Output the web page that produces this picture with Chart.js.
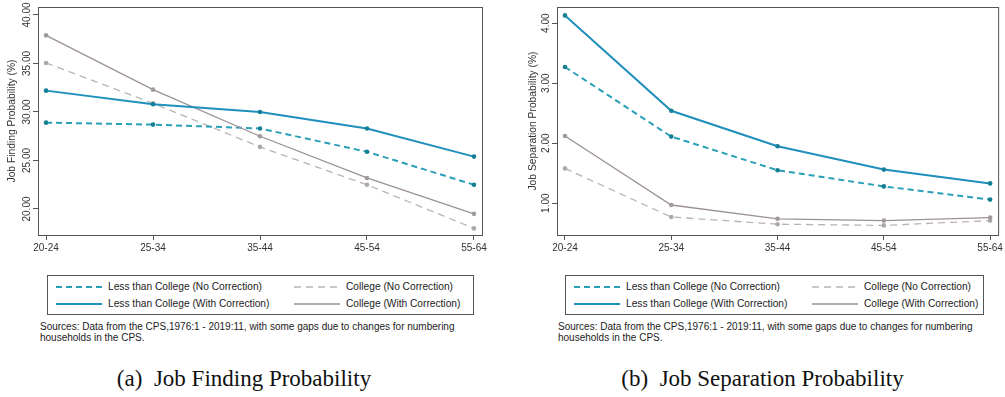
<!DOCTYPE html>
<html>
<head>
<meta charset="utf-8">
<script src="https://cdn.jsdelivr.net/npm/chart.js@4.4.1/dist/chart.umd.min.js"></script>
<style>
  html, body { margin: 0; padding: 0; background: #fff; width: 1005px; height: 397px; overflow: hidden; }
  body { position: relative; font-family: "Liberation Sans", Arial, sans-serif; color: #222; }
  .cv { position: absolute; top: 0; }
  .legend { position: absolute; top: 275px; height: 40px; border: 1px solid #555; box-sizing: border-box;
            display: grid; grid-template-columns: 238px 1fr; grid-template-rows: 1fr 1fr; font-size: 10.2px;
            padding: 2px 0; white-space: nowrap; }
  .legend .item { display: flex; align-items: center; }
  .legend svg { margin: 0 6px 0 8px; flex: none; }
  .note { position: absolute; top: 321px; font-size: 10px; line-height: 11px; color: #222; white-space: nowrap; }
  .caption { position: absolute; top: 366px; font-family: "Liberation Serif", "DejaVu Serif", serif; font-size: 23px;
             color: #111; text-align: center; white-space: pre; }
</style>
</head>
<body>
<div class="cv" style="left:0px;width:500px;height:260px"><canvas id="findChart"></canvas></div>
<div class="cv" style="left:519px;width:486px;height:260px"><canvas id="sepChart"></canvas></div>
<div class="legend" id="findLegend" style="left:47px;width:427px"></div>
<div class="legend" id="sepLegend" style="left:565px;width:419px"></div>
<div class="note" style="left:40px">Sources: Data from the CPS,1976:1 - 2019:11, with some gaps due to changes for numbering<br>households in the CPS.</div>
<div class="note" style="left:558px">Sources: Data from the CPS,1976:1 - 2019:11, with some gaps due to changes for numbering<br>households in the CPS.</div>
<div class="caption" style="left:0px;width:488px">(a)  Job Finding Probability</div>
<div class="caption" style="left:510px;width:505px">(b)  Job Separation Probability</div>
<script>
const categories = ["20-24", "25-34", "35-44", "45-54", "55-64"];
const seriesNames = [
  "Less than College (No Correction)",
  "College (No Correction)",
  "Less than College (With Correction)",
  "College (With Correction)"
];

// Job finding probability (%)
const findLessNoCorr = [28.9, 28.7, 28.3, 25.9, 22.5];
const findCollNoCorr = [35.05, 30.9, 26.4, 22.5, 18.0];
const findLessCorr = [32.2, 30.8, 30.0, 28.3, 25.4];
const findCollCorr = [37.9, 32.3, 27.5, 23.2, 19.5];
const findTicks = [20, 25, 30, 35, 40];

// Job separation probability (%)
const sepLessNoCorr = [3.27, 2.11, 1.55, 1.28, 1.06];
const sepCollNoCorr = [1.58, 0.77, 0.65, 0.63, 0.71];
const sepLessCorr = [4.13, 2.54, 1.95, 1.56, 1.33];
const sepCollCorr = [2.12, 0.97, 0.74, 0.71, 0.76];
const sepTicks = [1, 2, 3, 4];

const styles = [
  { color: "#2a9fb8", point: "#177f92", width: 2, dash: [6, 4] },
  { color: "#b9b4b4", point: "#aaaaaa", width: 1.3, dash: [7, 5] },
  { color: "#1f8fbb", point: "#167f98", width: 2, dash: [] },
  { color: "#9c9196", point: "#a09a9c", width: 1.3, dash: [] }
];

const framePlugin = {
  id: "frame",
  afterDraw(chart, args, opts) {
    const { ctx, chartArea: a, scales } = chart;
    ctx.save();
    ctx.strokeStyle = "#555";
    ctx.lineWidth = 1;
    ctx.strokeRect(a.left + 0.5, a.top + 0.5, a.right - a.left, a.bottom - a.top);
    ctx.fillStyle = "#333";
    ctx.font = "10px 'Liberation Sans', Arial, sans-serif";
    ctx.textAlign = "center";
    ctx.textBaseline = "middle";
    opts.ticks.forEach(v => {
      const y = scales.y.getPixelForValue(v);
      ctx.save();
      ctx.translate(a.left - 10.5, y);
      ctx.rotate(-Math.PI / 2);
      ctx.fillText(v.toFixed(2), 0, 0);
      ctx.restore();
    });
    ctx.font = "10.3px 'Liberation Sans', Arial, sans-serif";
    ctx.translate(a.left - opts.titleOffset, (a.top + a.bottom) / 2);
    ctx.rotate(-Math.PI / 2);
    ctx.fillText(opts.title, 0, 0);
    ctx.restore();
  }
};

function makeChart(id, series, yMin, yMax, ticks, title, titleOffset, padRight) {
  new Chart(document.getElementById(id).getContext("2d"), {
    type: "line",
    data: {
      datasets: series.map((vals, k) => ({
        label: seriesNames[k],
        data: vals.map((v, i) => ({ x: i, y: v })),
        borderColor: styles[k].color,
        borderWidth: styles[k].width,
        borderDash: styles[k].dash,
        backgroundColor: styles[k].point,
        pointBackgroundColor: styles[k].point,
        pointBorderColor: styles[k].point,
        pointRadius: 2.3,
        pointBorderWidth: 0,
        tension: 0,
        fill: false,
        order: k < 2 ? 1 : 0
      }))
    },
    options: {
      responsive: true,
      maintainAspectRatio: false,
      animation: false,
      layout: { padding: { left: 0, right: padRight, top: 7, bottom: 0 } },
      plugins: {
        legend: { display: false },
        tooltip: { enabled: false },
        frame: { ticks: ticks, title: title, titleOffset: titleOffset }
      },
      scales: {
        x: {
          type: "linear",
          min: -0.075,
          max: 4.075,
          afterBuildTicks: s => { s.ticks = categories.map((c, i) => ({ value: i })); },
          afterFit: s => { s.height = 25; },
          ticks: {
            autoSkip: false,
            maxRotation: 0,
            padding: 2,
            color: "#333",
            font: { family: "'Liberation Sans', Arial, sans-serif", size: 10 },
            callback: v => categories[v]
          },
          grid: { drawOnChartArea: false, tickLength: 5, color: "#555" },
          border: { display: false }
        },
        y: {
          min: yMin,
          max: yMax,
          afterBuildTicks: s => { s.ticks = ticks.map(v => ({ value: v })); },
          afterFit: s => { s.width = 38; },
          ticks: { display: false },
          grid: { drawOnChartArea: false, tickLength: 5, color: "#555" },
          border: { display: false }
        }
      }
    },
    plugins: [framePlugin]
  });
}

function makeLegend(id) {
  const el = document.getElementById(id);
  [0, 1, 2, 3].forEach(k => {
    const s = styles[k];
    const item = document.createElement("div");
    item.className = "item";
    item.innerHTML = '<svg width="46" height="6"><line x1="0" y1="3" x2="46" y2="3" stroke="' + s.color +
      '" stroke-width="' + s.width + '" stroke-dasharray="' + (s.dash.length ? s.dash.join(",") : "none") +
      '"/></svg><span>' + seriesNames[k] + '</span>';
    el.appendChild(item);
  });
}

makeChart("findChart", [findLessNoCorr, findCollNoCorr, findLessCorr, findCollCorr],
  17.32, 40.82, findTicks, "Job Finding Probability (%)", 26, 18);
makeChart("sepChart", [sepLessNoCorr, sepCollNoCorr, sepLessCorr, sepCollCorr],
  0.47, 4.27, sepTicks, "Job Separation Probability (%)", 24, 4);
makeLegend("findLegend");
makeLegend("sepLegend");
</script>
</body>
</html>
